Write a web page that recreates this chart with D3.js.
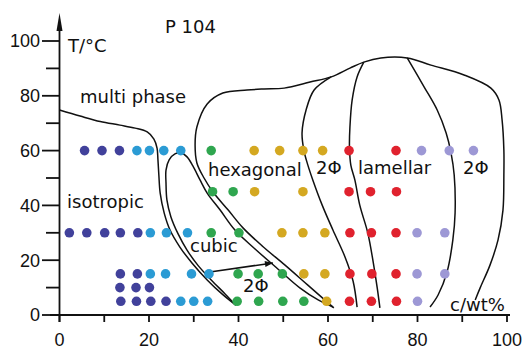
<!DOCTYPE html>
<html>
<head>
<meta charset="utf-8">
<script src="https://cdn.jsdelivr.net/npm/d3@7"></script>
<style>
  html, body { margin: 0; padding: 0; background: #fff; }
  svg { display: block; }
  .lbl { font-family: "DejaVu Sans", sans-serif; font-size: 18px; fill: #111; }
  .tick-lbl { font-family: "Liberation Sans", sans-serif; font-size: 18px; fill: #111; }
</style>
</head>
<body>
<svg id="chart" width="528" height="349"></svg>
<script>
// Phase diagram of P 104 in water: sample points by phase, [c wt%, T °C]
const isotropicPts = [[5.6,60],[9.5,60],[13.4,60],[2.2,30],[6.1,30],[10.1,30],[13.6,30],[17.5,30],
  [13.6,15],[17.4,15],[13.5,10],[17.1,10],[20.1,10],[13.7,5],[17.2,5],[20.4,5],[23.8,5]];
const micellarPts = [[17.3,60],[20.1,60],[23.3,60],[27.1,60],[20.3,30],[23.9,30],[28.6,30],
  [20.3,15],[23.7,15],[29.5,15],[33.4,15],[27.1,5],[30.0,5],[33.1,5]];
const cubicPts = [[33.9,60],[34.2,45],[38.8,45],[33.9,30],[40.1,30],[39.9,15],[44.4,15],[49.8,15],
  [39.7,5],[44.5,5],[49.9,5],[54.6,5]];
const hexagonalPts = [[43.5,60],[49.2,60],[54.4,60],[58.8,60],[43.6,45],[54.4,45],[49.7,30],[54.4,30],
  [59.3,30],[54.6,15],[59.3,15],[59.7,5]];
const lamellarPts = [[64.7,60],[75.2,60],[64.7,45],[69.5,45],[75.3,45],[64.9,30],[69.7,30],[75.2,30],
  [64.9,15],[69.8,15],[75.2,15],[64.8,5],[69.7,5],[75.3,5]];
const twoPhasePts = [[80.9,60],[87.1,60],[92.5,60],[79.9,30],[86.1,30],[79.9,15],[86.1,15],[80.0,5]];

const phaseColors = ["#41419b", "#2b9bd4", "#2fa64f", "#d4a821", "#e0222e", "#9d98d5"];

// Phase boundaries, [c wt%, T °C]
const multiPhaseLine = [[0,74.8],[4.6,72.6],[9.1,70.6],[13.5,69.3],[16.9,68.2],[19.6,66.8],[21.1,64.2],
  [21.8,60.9],[22.0,56.6],[22.2,51.1],[22.5,44.5],[23.4,37.2],[24.7,31.0],[26.9,24.8],[29.6,19.0],
  [33.0,12.8],[36.3,7.7],[39.4,3.6]];
const cubicLoop = [[39.4,3.6],[37.0,7.7],[33.9,12.8],[30.9,18.2],[28.5,23.7],[26.5,29.6],[24.9,35.8],
  [24.0,42.0],[23.8,48.2],[23.8,52.9],[24.5,56.6],[25.8,58.8],[27.2,59.1],[28.5,57.7],[29.8,54.4],
  [31.4,49.3],[33.0,44.5],[35.9,38.3],[39.2,31.0],[43.7,24.1],[48.8,16.8],[53.7,9.9],[57.8,5.5],[61.1,2.9]];
const outerLine = [[61.3,2.6],[55.5,10.9],[50.4,18.2],[45.3,25.2],[41.0,31.8],[37.7,38.3],[34.3,44.9],
  [32.3,50.0],[30.7,55.5],[30.3,62.0],[30.7,68.6],[33.0,77.0],[36.5,81.0],[41.9,82.1],[45.7,82.5],
  [50.2,82.8],[56.0,85.0],[60.7,86.9],[64.9,90.1],[68.0,92.3],[71.8,93.8],[77.7,93.8],[83.0,91.2],
  [90.4,87.6],[96.4,82.8],[98.2,78.5],[98.9,71.2],[99.3,60.2],[99.3,51.1],[99.1,38.3],[98.0,27.4],
  [96.2,18.2],[94.0,9.9],[92.9,5.5]];
const hexEdgeLine = [[60.7,86.9],[56.9,82.1],[55.1,74.8],[54.2,66.4],[54.6,60.2],[55.5,54.7],[56.6,49.3],
  [58.7,40.1],[61.1,31.0],[63.8,21.2],[65.6,12.4],[66.5,2.9]];
const lamellarLeftLine = [[68.0,92.3],[66.5,86.9],[65.4,78.5],[64.9,68.6],[64.8,61.3],[65.1,54.7],
  [66.0,49.3],[67.1,40.1],[68.9,29.9],[70.1,19.3],[71.0,9.9],[71.6,2.6]];
const lamellarRightLine = [[77.7,93.8],[81.5,83.2],[84.4,74.8],[86.4,66.4],[87.5,59.1],[88.2,51.1],
  [88.4,37.2],[87.9,27.4],[86.6,15.7],[84.6,7.3],[82.8,2.9]];
const tieLine = [[33.6,15.7],[47.7,19.0]];

const xTicks = [0, 20, 40, 60, 80, 100];
const yTicks = [0, 20, 40, 60, 80, 100];

const svg = d3.select("#chart");
const x = d3.scaleLinear().domain([0, 100]).range([59.5, 507]);
const y = d3.scaleLinear().domain([0, 100]).range([315, 41]);

// Axes
const axis = svg.append("g").attr("stroke", "#111").attr("stroke-width", 1.8);
axis.append("line").attr("x1", 50).attr("x2", 510).attr("y1", y(0)).attr("y2", y(0));
axis.append("line").attr("x1", x(0)).attr("x2", x(0)).attr("y1", y(0) + 7).attr("y2", 26);
svg.append("path")
  .attr("d", `M${x(0)},13 L${x(0) - 3},31 L${x(0) + 3},31 Z`)
  .attr("fill", "#111");

d3.range(0, 101, 10).forEach(v => {
  axis.append("line").attr("x1", x(v)).attr("x2", x(v)).attr("y1", y(0)).attr("y2", y(0) + 7);
  const major = v % 20 === 0;
  axis.append("line").attr("x1", major ? 42 : 46).attr("x2", x(0)).attr("y1", y(v)).attr("y2", y(v));
});

svg.selectAll(".xt").data(xTicks).enter().append("text")
  .attr("class", "tick-lbl").attr("x", d => x(d)).attr("y", 346)
  .attr("text-anchor", "middle").text(d => d);
svg.selectAll(".yt").data(yTicks).enter().append("text")
  .attr("class", "tick-lbl").attr("x", 40).attr("y", d => y(d)).attr("dy", "0.36em")
  .attr("text-anchor", "end").text(d => d);

// Boundaries
const line = d3.line().x(d => x(d[0])).y(d => y(d[1])).curve(d3.curveCatmullRom.alpha(0.5));
const bounds = svg.append("g").attr("fill", "none").attr("stroke", "#111").attr("stroke-width", 1.5);
[multiPhaseLine, cubicLoop, outerLine, hexEdgeLine, lamellarLeftLine, lamellarRightLine].forEach(d => {
  bounds.append("path").attr("d", line(d));
});
bounds.append("path").attr("d", d3.line().x(d => x(d[0])).y(d => y(d[1]))(tieLine));
const tEnd = tieLine[1], tStart = tieLine[0];
const ang = Math.atan2(y(tEnd[1]) - y(tStart[1]), x(tEnd[0]) - x(tStart[0]));
const ex = x(tEnd[0]), ey = y(tEnd[1]);
svg.append("path")
  .attr("d", `M${ex},${ey} L${ex - 8 * Math.cos(ang) + 3 * Math.sin(ang)},${ey - 8 * Math.sin(ang) - 3 * Math.cos(ang)} L${ex - 8 * Math.cos(ang) - 3 * Math.sin(ang)},${ey - 8 * Math.sin(ang) + 3 * Math.cos(ang)} Z`)
  .attr("fill", "#111");

// Sample points
[isotropicPts, micellarPts, cubicPts, hexagonalPts, lamellarPts, twoPhasePts].forEach((pts, i) => {
  svg.append("g").selectAll("circle").data(pts).enter().append("circle")
    .attr("cx", d => x(d[0])).attr("cy", d => y(d[1])).attr("r", 4.8)
    .attr("fill", phaseColors[i]);
});

// Labels
const labels = [
  ["P 104", 165, 33], ["T/°C", 68, 52], ["multi phase", 80, 103], ["hexagonal", 208, 176],
  ["2Φ", 316, 174], ["lamellar", 358, 174], ["2Φ", 463, 174], ["isotropic", 67, 208],
  ["cubic", 190, 252], ["2Φ", 243, 292], ["c/wt%", 450, 311]
];
svg.selectAll(".lab").data(labels).enter().append("text")
  .attr("class", "lbl").attr("x", d => d[1]).attr("y", d => d[2]).text(d => d[0]);
</script>
</body>
</html>
